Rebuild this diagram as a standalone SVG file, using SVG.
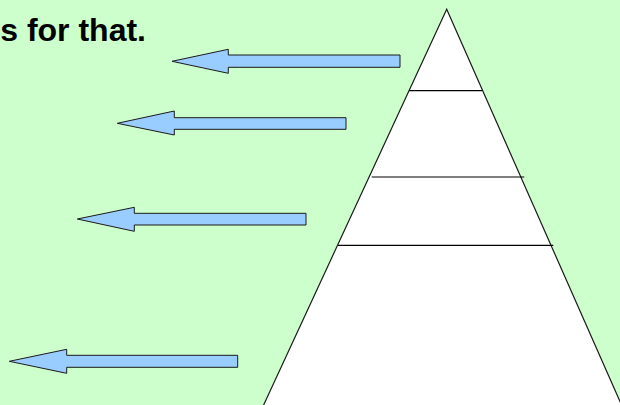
<svg xmlns="http://www.w3.org/2000/svg" width="620" height="405" viewBox="0 0 620 405">
<style>
.arrow{fill:#99ccff;stroke:#1a1a1a;stroke-width:1}
.tier{stroke:#000;stroke-width:1.2;fill:none}
.title{font-family:"Liberation Sans",Arial,sans-serif;font-weight:bold;font-size:32px;fill:#000}
</style>
<rect width="620" height="405" fill="#ccffcc"/>
<text class="title" x="146" y="41" text-anchor="end">s for that.</text>
<g id="pyramid">
<polygon points="446.7,9.3 259,415 626,415" fill="#fff" stroke="#1a1a1a" stroke-width="1.2"/>
<line class="tier" x1="409.3" y1="90.7" x2="482.3" y2="90.7"/>
<line class="tier" x1="371.7" y1="177" x2="524.3" y2="177"/>
<line class="tier" x1="338" y1="245.3" x2="553.3" y2="245.3"/>
</g>
<g id="connectors">
<polygon id="arrow1" class="arrow" points="172,61.3 228.3,49.3 228.3,55 400,55 400,67.3 228.3,67.3 228.3,73.3"/>
<polygon id="arrow2" class="arrow" points="117.3,123.3 174.3,111 174.3,117.7 346,117.7 346,129.3 174.3,129.3 174.3,135"/>
<polygon id="arrow3" class="arrow" points="77.3,219 134.3,207.3 134.3,213.3 306,213.3 306,225 134.3,225 134.3,231.3"/>
<polygon id="arrow4" class="arrow" points="9.3,361.3 66.7,349.3 66.7,355.3 237.7,355.3 237.7,367.3 66.7,367.3 66.7,373.3"/>
</g>
</svg>
